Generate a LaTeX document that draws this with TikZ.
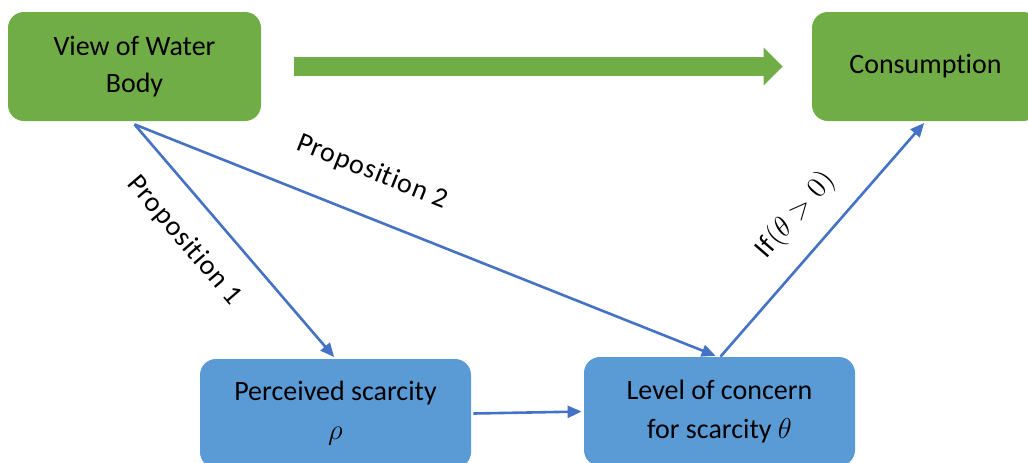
\documentclass[tikz,border=0pt]{standalone}
\usepackage{fontspec}
\setmainfont{Carlito}[Ligatures=NoCommon]
\usetikzlibrary{arrows.meta}
\definecolor{boxgreen}{RGB}{112,173,71}
\definecolor{boxblue}{RGB}{91,155,213}
\definecolor{linkblue}{RGB}{68,114,196}
\begin{document}
\begin{tikzpicture}[x=0.5pt,y=-0.5pt,>={Triangle[length=7pt,width=6pt]},
    greenbox/.style={fill=boxgreen,rounded corners=8pt,minimum width=126.5pt,minimum height=54.5pt,align=center,font=\fontsize{14}{18.5}\selectfont},
    bluebox/.style={fill=boxblue,rounded corners=8pt,minimum width=135.5pt,minimum height=54.5pt,align=center,font=\fontsize{14}{19.5}\selectfont},
    link/.style={->,draw=linkblue,line width=1.3pt,shorten >=1pt},
    tag/.style={font=\fontsize{14}{17}\selectfont\addfontfeature{LetterSpace=3},sloped}]
    \useasboundingbox (0,0) rectangle (1028,462);
    \clip (0,0) rectangle (1028,462);
    \node[greenbox] (view) at (134.5,66.5) {View of Water\\Body};
    \node[greenbox,minimum width=113.5pt] (cons) at (925.5,66.5) {Consumption};
    \node[bluebox] (perc) at (335.5,413.5) {Perceived scarcity\\$\rho$};
    \node[bluebox] (level) at (719.5,411.5) {Level of concern\\for scarcity $\theta$};
    \draw[boxgreen,line width=9.5pt,-{Triangle[length=9.5pt,width=18.5pt]}] ([xshift=16.5pt]view.east)--([xshift=-14.5pt]cons.west);
    \draw[link] ([yshift=-1.5pt]view.south)--node[tag,pos=.39,below=9pt]{Proposition 1}(perc.north);
    \draw[link] ([yshift=-1.5pt]view.south)--node[tag,pos=.38,above=12pt]{Proposition 2}([xshift=-1pt]level.north);
    \draw[link] ([xshift=0.5pt]level.north)--node[tag,pos=.5,above=7pt]{If$(\theta>0)$}(cons.south);
    \draw[link] ([xshift=1pt]perc.east)--(level.west);
\end{tikzpicture}
\end{document}
